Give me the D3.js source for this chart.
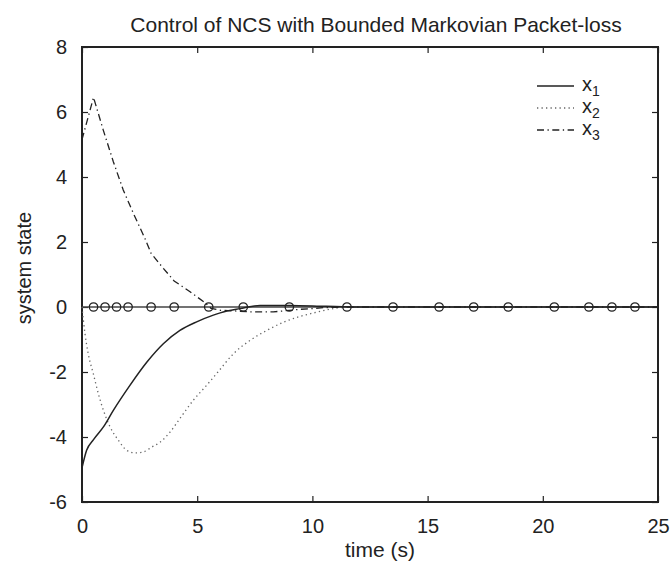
<!DOCTYPE html>
<html lang="en">
<head>
<meta charset="UTF-8">
<title>Control of NCS</title>
<script src="https://cdnjs.cloudflare.com/ajax/libs/d3/7.8.5/d3.min.js"></script>
<style>
    body { margin: 0; background: #fff; }
    text { font-family: "Liberation Sans", Arial, Helvetica, sans-serif; fill: #222; }
</style>
</head>
<body>
<svg width="671" height="567"></svg>
<script>
    // series
    const t1 = [0, 0.2, 0.5, 0.93, 1.36, 2.08, 2.81, 3.53, 4.25, 5.0, 5.7, 6.0, 6.86, 7.73, 9.0, 10.6, 12, 25];
    const x1 = [-4.95, -4.41, -4.08, -3.69, -3.18, -2.41, -1.7, -1.13, -0.72, -0.45, -0.25, -0.18, -0.05, 0.05, 0.05, 0.02, 0, 0];

    const t2 = [0, 0.06, 0.13, 0.27, 0.49, 0.71, 0.93, 1.22, 1.58, 1.94, 2.3, 2.66, 3.03, 3.39, 3.82, 4.25, 4.83, 5.41, 5.9, 6.57, 7.29, 8.02, 8.74, 9.46, 10.19, 10.9, 11.6, 25];
    const x2 = [0, -0.41, -0.82, -1.44, -2.05, -2.67, -3.18, -3.69, -4.1, -4.41, -4.49, -4.46, -4.31, -4.16, -3.85, -3.43, -2.87, -2.41, -2.0, -1.44, -1.03, -0.72, -0.47, -0.29, -0.16, -0.05, 0, 0];

    const t3 = [0, 0.5, 0.92, 1.36, 1.79, 2.23, 2.73, 3.0, 3.53, 4.0, 4.69, 5.34, 5.6, 6.0, 6.6, 7.3, 8.3, 9.5, 10.0, 10.5, 11.5, 25];
    const x3 = [5.15, 6.45, 5.45, 4.47, 3.6, 2.88, 2.11, 1.65, 1.19, 0.8, 0.47, 0.13, -0.04, -0.1, -0.12, -0.15, -0.15, -0.07, -0.05, -0.02, 0, 0];

    // packet-loss instants (circles on the zero line)
    const lossTimes = [0.5, 1, 1.5, 2, 3, 4, 5.5, 7, 9, 11.5, 13.5, 15.5, 17, 18.5, 20.5, 22, 23, 24];

    const xTicks = [0, 5, 10, 15, 20, 25];
    const yTicks = [-6, -4, -2, 0, 2, 4, 6, 8];
    const legendNames = ["1", "2", "3"];

    const svg = d3.select("svg");
    const plotL = 82, plotR = 658, plotT = 47, plotB = 502;

    const x = d3.scaleLinear().domain([0, 25]).range([plotL, plotR]);
    const y = d3.scaleLinear().domain([-6, 8]).range([plotB, plotT]);
    const plain = d => String(d); // hyphen minus like the original

    // axes with inward ticks, mirrored on top / right
    svg.append("g").attr("transform", `translate(0,${plotB})`)
        .call(d3.axisBottom(x).tickValues(xTicks).tickFormat(plain).tickSizeInner(-6).tickSizeOuter(0).tickPadding(17));
    svg.append("g").attr("transform", `translate(0,${plotT})`)
        .call(d3.axisTop(x).tickValues(xTicks).tickSizeInner(-6).tickSizeOuter(0).tickFormat(""));
    svg.append("g").attr("transform", `translate(${plotL},0)`)
        .call(d3.axisLeft(y).tickValues(yTicks).tickFormat(plain).tickSizeInner(-6).tickSizeOuter(0).tickPadding(15));
    svg.append("g").attr("transform", `translate(${plotR},0)`)
        .call(d3.axisRight(y).tickValues(yTicks).tickSizeInner(-6).tickSizeOuter(0).tickFormat(""));

    svg.selectAll(".domain").remove();
    svg.selectAll(".tick line").attr("stroke", "#222").attr("stroke-width", 1.2);
    svg.selectAll(".tick text").style("font-size", "20px").attr("fill", "#222");

    svg.append("rect")
        .attr("x", plotL).attr("y", plotT)
        .attr("width", plotR - plotL).attr("height", plotB - plotT)
        .attr("fill", "none").attr("stroke", "#222").attr("stroke-width", 2);

    const line = d3.line().x(d => x(d[0])).y(d => y(d[1]));
    const smooth = d3.line().curve(d3.curveMonotoneX).x(d => x(d[0])).y(d => y(d[1]));

    // zero line with loss markers
    svg.append("path")
        .attr("d", line([[0, 0], [25, 0]]))
        .attr("fill", "none").attr("stroke", "#444").attr("stroke-width", 1.6);
    svg.append("g").selectAll("circle")
        .data(lossTimes)
        .join("circle")
        .attr("cx", d => x(d)).attr("cy", y(0)).attr("r", 4.2)
        .attr("fill", "none").attr("stroke", "#222").attr("stroke-width", 1.3);

    svg.append("path")
        .attr("d", smooth(d3.zip(t2, x2)))
        .attr("fill", "none").attr("stroke", "#666").attr("stroke-width", 1.3)
        .attr("stroke-dasharray", "1.3,3.2");
    svg.append("path")
        .attr("d", line(d3.zip(t3, x3)))
        .attr("fill", "none").attr("stroke", "#222").attr("stroke-width", 1.3)
        .attr("stroke-dasharray", "7,3.5,1.3,3.5");
    svg.append("path")
        .attr("d", smooth(d3.zip(t1, x1)))
        .attr("fill", "none").attr("stroke", "#222").attr("stroke-width", 1.5);

    // legend
    const dashes = [null, "1.3,3.2", "7,3.5,1.3,3.5"];
    const strokes = ["#222", "#666", "#222"];
    const lg = svg.append("g");
    legendNames.forEach((n, i) => {
        const ly = 86 + i * 22;
        lg.append("line")
            .attr("x1", 537).attr("x2", 574).attr("y1", ly).attr("y2", ly)
            .attr("stroke", strokes[i]).attr("stroke-width", 1.3)
            .attr("stroke-dasharray", dashes[i]);
        const tx = lg.append("text").attr("x", 582).attr("y", ly + 5).style("font-size", "20px");
        tx.append("tspan").text("x");
        tx.append("tspan").attr("dy", 5).style("font-size", "14px").text(n);
    });

    // labels
    svg.append("text")
        .attr("x", 376).attr("y", 32)
        .attr("text-anchor", "middle").style("font-size", "21px")
        .text("Control of NCS with Bounded Markovian Packet-loss");
    svg.append("text")
        .attr("x", 380).attr("y", 557)
        .attr("text-anchor", "middle").style("font-size", "21px")
        .text("time (s)");
    svg.append("text")
        .attr("transform", "translate(31,268) rotate(-90)")
        .attr("text-anchor", "middle").style("font-size", "20px")
        .text("system state");
</script>
</body>
</html>
